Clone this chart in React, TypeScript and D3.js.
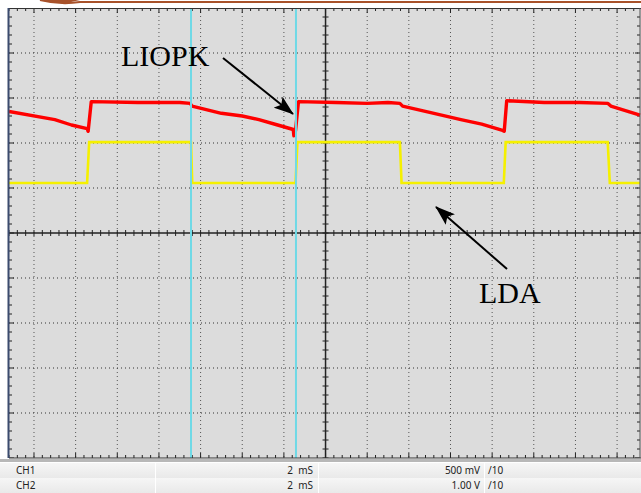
import React from "react";
import * as d3 from "d3";

// CH1 (red) key points: time (ms), volts (500 mV/div)
const ch1Time = [-15.2, -13.0, -12.2, -11.45, -11.4, -11.25, -9.0, -7.0, -6.5, -6.41, -5.0, -4.0, -3.2, -2.3, -1.55, -1.52, -1.44, -1.3, 0.5, 2.0, 3.0, 3.57, 3.7, 5.0, 6.5, 7.5, 8.5, 8.58, 8.7, 10.5, 12.2, 13.56, 13.7, 15.1];
const ch1Volt = [1.35, 1.26, 1.2, 1.16, 1.13, 1.46, 1.45, 1.45, 1.44, 1.41, 1.33, 1.3, 1.26, 1.2, 1.15, 1.08, 1.14, 1.46, 1.45, 1.44, 1.45, 1.44, 1.41, 1.34, 1.26, 1.21, 1.14, 1.13, 1.47, 1.45, 1.45, 1.44, 1.41, 1.31];
// CH2 (yellow) key points: time (ms), volts (1.00 V/div)
const ch2Time = [-15.2, -11.45, -11.35, -6.46, -6.4, -1.44, -1.35, 3.57, 3.65, 8.56, 8.65, 13.55, 13.65, 15.1];
const ch2Volt = [1.11, 1.11, 2.02, 2.02, 1.11, 1.11, 2.02, 2.02, 1.11, 1.11, 2.02, 2.02, 1.11, 1.11];
// cursors (ms)
const cursorTimes = [-6.46, -1.42];
// table rows
const rowChannel = ["CH1", "CH2"];
const rowTime = ["2  mS", "2  mS"];
const rowVolt = ["500 mV", "1.00 V"];
const rowProbe = ["/10", "/10"];

const W = 641, H = 493;
const L = 9, R = 640, T = 8, B = 458;

export default function App() {
  const x = d3.scaleLinear().domain([-15.2, 15.1]).range([L, R]);
  const y1 = d3.scaleLinear().domain([-2.5, 2.5]).range([B, T]);
  const y2 = d3.scaleLinear().domain([-5, 5]).range([B, T]);
  const divX = 2; // ms per division
  const cx = x(0), cy = y1(0);
  const divPxY = (B - T) / 10;

  const vGrid: number[] = [];
  for (let t = -14; t <= 15; t += divX) if (t !== 0) vGrid.push(x(t));
  const hGrid: number[] = [];
  for (let k = -4; k <= 4; k++) if (k !== 0) hGrid.push(cy + k * divPxY);

  const minorX: { p: number; major: boolean }[] = [];
  for (let t = -15.2; t <= 15.1; t += 0.4) {
    const tt = Math.round(t * 10) / 10;
    minorX.push({ p: x(tt), major: Math.abs(tt / 2 - Math.round(tt / 2)) < 1e-6 });
  }
  const minorY: { p: number; major: boolean }[] = [];
  for (let k = -25; k <= 25; k++) minorY.push({ p: cy + (k * divPxY) / 5, major: k % 5 === 0 });

  const line1 = d3.line<number>().x((_, i) => x(ch1Time[i])).y((v) => y1(v));
  const line2 = d3.line<number>().x((_, i) => x(ch2Time[i])).y((v) => y2(v));

  return (
    <svg width={W} height={H} style={{ position: "absolute", left: 0, top: 0, background: "#fff" }}>
      <defs>
        <linearGradient id="rowg" x1="0" y1="0" x2="0" y2="1">
          <stop offset="0" stopColor="#f6f6f6" />
          <stop offset="1" stopColor="#e9e9e9" />
        </linearGradient>
        <clipPath id="plotclip">
          <rect x={L} y={T} width={R - L + 1} height={B - T} />
        </clipPath>
        <marker id="ah" viewBox="0 0 20 14" refX="19" refY="7" markerWidth="20" markerHeight="14" orient="auto" markerUnits="userSpaceOnUse">
          <path d="M0,0 L20,7 L0,14 L4,7 z" fill="#000" />
        </marker>
      </defs>
      {/* top decoration */}
      <path d="M40,0 Q60,5 80,2 L641,2" fill="none" stroke="#a8522a" strokeWidth={2} />
      <path d="M40,0 Q60,6 80,0 z" fill="#a8522a" />
      {/* plot background */}
      <rect x={L} y={T} width={R - L + 2} height={B - T} fill="#dcdcdc" />
      <g clipPath="url(#plotclip)">
        {vGrid.map((p, i) => (
          <line key={"vg" + i} x1={p} x2={p} y1={T} y2={B} stroke="#555" strokeWidth={1} strokeDasharray="1,3" />
        ))}
        {hGrid.map((p, i) => (
          <line key={"hg" + i} x1={L} x2={R} y1={p} y2={p} stroke="#333" strokeWidth={1} strokeDasharray="1,3" />
        ))}
        {/* center axes */}
        <line x1={L} x2={R + 1} y1={cy} y2={cy} stroke="#222" strokeWidth={1.5} />
        <line x1={cx} x2={cx} y1={T} y2={B} stroke="#222" strokeWidth={1.5} />
        {minorX.map((m, i) => (
          <g key={"mx" + i} stroke="#222" strokeWidth={1}>
            <line x1={m.p} x2={m.p} y1={cy - 3} y2={cy + 3} />
            <line x1={m.p} x2={m.p} y1={T} y2={T + (m.major ? 5 : 3)} />
            <line x1={m.p} x2={m.p} y1={B} y2={B - (m.major ? 5 : 3)} />
          </g>
        ))}
        {minorY.map((m, i) => (
          <g key={"my" + i} stroke="#222" strokeWidth={1}>
            <line x1={cx - 3} x2={cx + 3} y1={m.p} y2={m.p} />
            <line x1={L} x2={L + (m.major ? 5 : 3)} y1={m.p} y2={m.p} />
            <line x1={R} x2={R - (m.major ? 5 : 3)} y1={m.p} y2={m.p} />
          </g>
        ))}
        {/* traces */}
        <path d={line2(ch2Volt) || ""} fill="none" stroke="#f5f000" strokeWidth={2.6} />
        <path d={line1(ch1Volt) || ""} fill="none" stroke="#ff0000" strokeWidth={3.4} strokeLinejoin="round" />
        {cursorTimes.map((t, i) => (
          <line key={"c" + i} x1={x(t)} x2={x(t)} y1={T} y2={B} stroke="#6fd9e6" strokeWidth={2} />
        ))}
      </g>
      {/* borders */}
      <line x1={L} x2={R + 1} y1={T + 0.5} y2={T + 0.5} stroke="#333" strokeWidth={1} />
      <line x1={L} x2={R + 1} y1={B} y2={B} stroke="#333" strokeWidth={1} />
      <line x1={R} x2={R} y1={T} y2={B} stroke="#555" strokeWidth={1} />
      <line x1={L - 0.5} x2={L - 0.5} y1={T} y2={B} stroke="#3b4b6e" strokeWidth={2} />
      {/* annotations */}
      <text x={121} y={66} fontFamily="Liberation Serif, serif" fontSize={30} fill="#000">LIOPK</text>
      <line x1={223} y1={58} x2={293} y2={114} stroke="#000" strokeWidth={2} markerEnd="url(#ah)" />
      <text x={479} y={303} fontFamily="Liberation Serif, serif" fontSize={30} fill="#000">LDA</text>
      <line x1={507} y1={269} x2={436} y2={207} stroke="#000" strokeWidth={2} markerEnd="url(#ah)" />
      {/* table */}
      <rect x={0} y={459} width={W} height={3} fill="#b8b8b8" />
      {rowChannel.map((c, i) => {
        const ry = 463 + i * 15;
        return (
          <g key={"row" + i} fontFamily="Noto Sans, DejaVu Sans, sans-serif" fontSize={10} fill="#222">
            <rect x={0} y={ry} width={W} height={15} fill="url(#rowg)" />
            <line x1={155.5} x2={155.5} y1={ry} y2={ry + 15} stroke="#fff" />
            <line x1={318.5} x2={318.5} y1={ry} y2={ry + 15} stroke="#fff" />
            <line x1={484.5} x2={484.5} y1={ry} y2={ry + 15} stroke="#fff" />
            <text x={16} y={ry + 11}>{c}</text>
            <text x={313} y={ry + 11} textAnchor="end" style={{ whiteSpace: "pre" }}>{rowTime[i]}</text>
            <text x={480} y={ry + 11} textAnchor="end">{rowVolt[i]}</text>
            <text x={488} y={ry + 11}>{rowProbe[i]}</text>
          </g>
        );
      })}
    </svg>
  );
}
